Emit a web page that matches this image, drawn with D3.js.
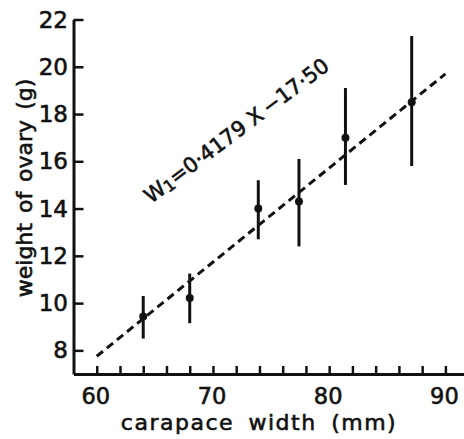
<!DOCTYPE html>
<html>
<head>
<meta charset="utf-8">
<script src="https://cdn.jsdelivr.net/npm/d3@7"></script>
<style>
  body { margin: 0; background: #fff; }
  svg text { font-family: "DejaVu Sans", sans-serif; fill: #111; stroke: #111; stroke-width: 0.6; }
</style>
</head>
<body>
<svg id="chart" width="464" height="439"></svg>
<script>
// carapace width (mm) and ovary weight (g)
const widths = [64.0, 68.0, 73.9, 77.4, 81.4, 87.1];
const means = [9.43, 10.22, 14.0, 14.3, 17.0, 18.5];
const upper = [10.3, 11.25, 15.2, 16.1, 19.1, 21.3];
const lower = [8.5, 9.15, 12.7, 12.4, 15.0, 15.8];

// regression line end points as drawn
const lineX = [60, 90];
const lineY = [7.75, 19.7];

const xTicks = d3.range(60, 91, 2);
const xLabels = [60, 70, 80, 90];
const yTicks = [8, 10, 12, 14, 16, 18, 20, 22];

const svg = d3.select('#chart');

const x = d3.scaleLinear().domain([58, 91.6]).range([73.5, 464]);
const y = d3.scaleLinear().domain([7, 22]).range([374, 19.5]);

const ink = '#111';

// axes
const xAxis = svg.append('g').attr('transform', `translate(0,${y(7)})`)
  .call(d3.axisBottom(x).tickValues(xTicks).tickSizeInner(-8).tickSizeOuter(0).tickFormat(''));
xAxis.select('.domain').attr('stroke', ink).attr('stroke-width', 3);
xAxis.selectAll('.tick line').attr('stroke', ink).attr('stroke-width', 2.5);

const yAxis = svg.append('g').attr('transform', `translate(${x(58)},0)`)
  .call(d3.axisLeft(y).tickValues(yTicks).tickSizeInner(-10).tickSizeOuter(0).tickFormat(''));
yAxis.select('.domain').attr('stroke', ink).attr('stroke-width', 3);
yAxis.selectAll('.tick line').attr('stroke', ink).attr('stroke-width', 2.5);

// tick labels
svg.append('g').selectAll('text')
  .data(xLabels)
  .join('text')
  .attr('x', d => x(d) - 1)
  .attr('y', 404)
  .attr('text-anchor', 'middle')
  .attr('font-size', 22.5)
  .text(d => d);

svg.append('g').selectAll('text')
  .data(yTicks)
  .join('text')
  .attr('x', 68)
  .attr('y', d => y(d) + 8)
  .attr('text-anchor', 'end')
  .attr('font-size', 23)
  .text(d => d);

// axis titles
svg.append('text')
  .attr('x', 259)
  .attr('y', 430)
  .attr('text-anchor', 'middle')
  .attr('font-size', 22)
  .attr('letter-spacing', 1.5)
  .attr('word-spacing', 6)
  .text('carapace width (mm)');

svg.append('text')
  .attr('transform', 'translate(32,188) rotate(-90)')
  .attr('text-anchor', 'middle')
  .attr('font-size', 22)
  .attr('word-spacing', 3)
  .text('weight of ovary (g)');

// regression line
svg.append('line')
  .attr('x1', x(lineX[0])).attr('y1', y(lineY[0]))
  .attr('x2', x(lineX[1])).attr('y2', y(lineY[1]))
  .attr('stroke', ink)
  .attr('stroke-width', 3)
  .attr('stroke-dasharray', '8,5');

// error bars
svg.append('g').selectAll('line')
  .data(widths)
  .join('line')
  .attr('x1', d => x(d)).attr('x2', d => x(d))
  .attr('y1', (d, i) => y(upper[i]))
  .attr('y2', (d, i) => y(lower[i]))
  .attr('stroke', ink)
  .attr('stroke-width', 3);

// means
svg.append('g').selectAll('circle')
  .data(widths)
  .join('circle')
  .attr('cx', d => x(d))
  .attr('cy', (d, i) => y(means[i]))
  .attr('r', 4)
  .attr('fill', ink);

// equation
const eq = svg.append('text')
  .attr('transform', 'translate(151,204) rotate(-37)')
  .attr('font-size', 21);
eq.append('tspan').text('W');
eq.append('tspan').attr('font-size', 16).attr('dy', 2).text('1');
eq.append('tspan').attr('dy', -2).text('=0·4179 X\u2009−17·50');
</script>
</body>
</html>
